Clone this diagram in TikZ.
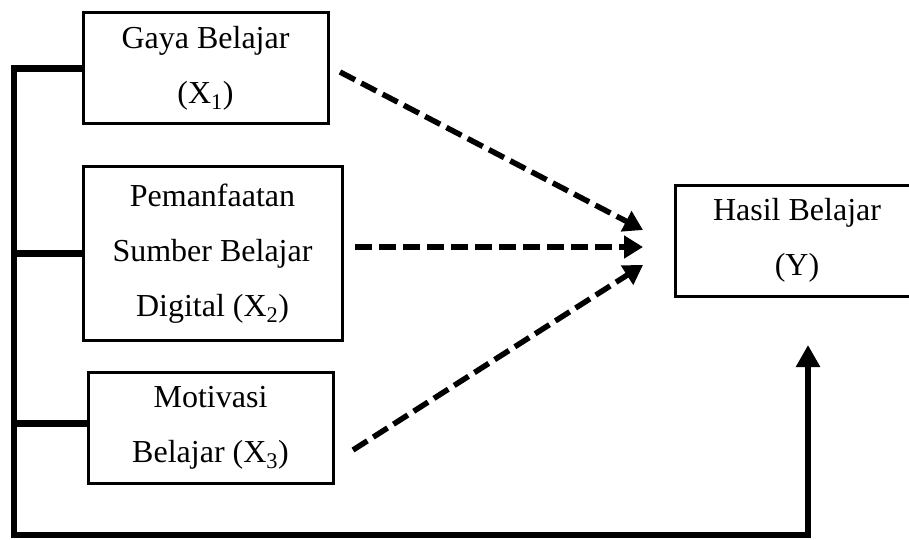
\documentclass[tikz,border=0pt]{standalone}
\usepackage{fontspec}
\setmainfont{Liberation Serif}
\usetikzlibrary{arrows.meta}
\begin{document}
\begin{tikzpicture}[x=1pt,y=-1pt,
  box/.style={draw,line width=3pt,align=center,inner sep=0pt,
    font=\fontsize{32}{55}\selectfont},
  bar/.style={line width=6.5pt,line join=miter},
  dasharrow/.style={line width=5.5pt,dash pattern=on 17pt off 7pt,
    -{Triangle[length=19pt,width=22pt]}}]
\useasboundingbox (0,0) rectangle (909,540);
\node[box,minimum width=245pt,minimum height=111pt] (b1) at (205.5,68.5) {Gaya Belajar\\(X\textsubscript{1})};
\node[box,minimum width=259pt,minimum height=173pt] (b2) at (212.5,253.5) {Pemanfaatan\\Sumber Belajar\\Digital (X\textsubscript{2})};
\node[box,minimum width=245pt,minimum height=111pt] (b3) at (210.5,427.5) {Motivasi\\Belajar (X\textsubscript{3})};
\node[box,minimum width=244pt,minimum height=111pt] (y) at (797,240.5) {Hasil Belajar\\(Y)};
\coordinate (L) at (14,0);
\coordinate (corner) at (808,535);
\coordinate (tip) at (808,345);
\coordinate (s1) at (340,72);
\coordinate (e1) at (643,230);
\coordinate (s2) at (355,247);
\coordinate (e2) at (643,247);
\coordinate (s3) at (353,450);
\coordinate (e3) at (643,265);
\draw[bar,-{Triangle[length=22pt,width=23pt]}] (b1.west) -- (b1.west -| L) |- (corner) -- (tip);
\draw[bar] (b2.west) -- (b2.west -| L);
\draw[bar] ([yshift=4pt]b3.west) -- ([yshift=4pt]b3.west -| L);
\draw[dasharrow] (s1) -- (e1);
\draw[dasharrow] (s2) -- (e2);
\draw[dasharrow] (s3) -- (e3);
\end{tikzpicture}
\end{document}
